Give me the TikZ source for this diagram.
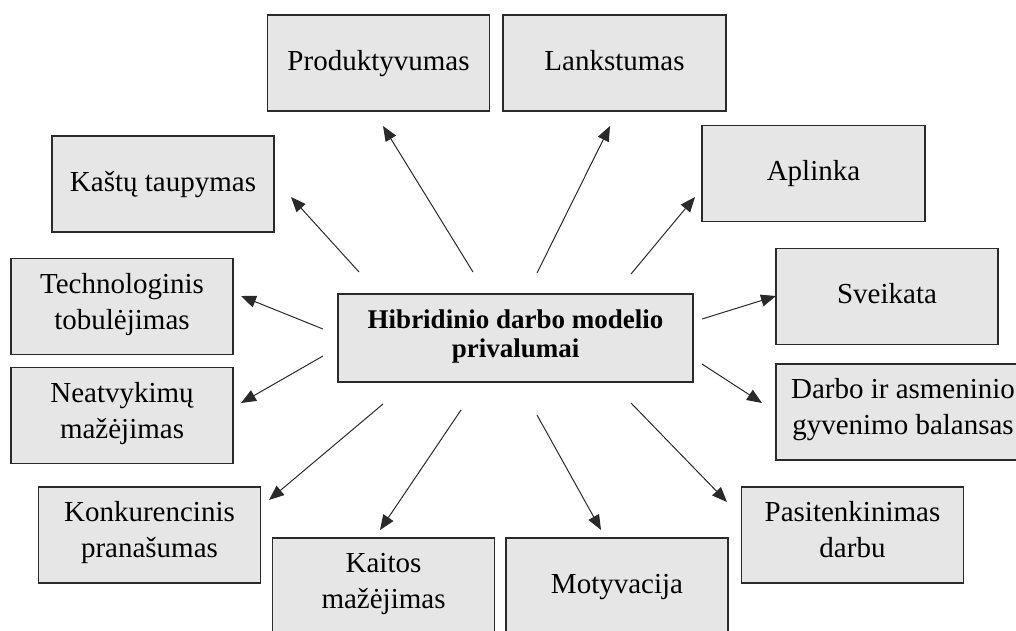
\documentclass[tikz,border=0pt]{standalone}
\usepackage{fontspec}
\setmainfont{Liberation Serif}
\usetikzlibrary{arrows.meta}
\definecolor{boxfill}{HTML}{E6E6E6}
\definecolor{edge}{HTML}{2A2A2A}
\begin{document}
\begin{tikzpicture}[x=1pt,y=-1pt,
  box/.style={draw=edge, line width=1.2pt, fill=boxfill, minimum width=222pt,
    minimum height=96pt, inner sep=0pt, align=center,
    font=\fontsize{29}{36}\selectfont,
    execute at begin node=\strut, execute at end node=\strut},
  hub/.style={box, minimum width=355pt, minimum height=88pt,
    font=\fontsize{27}{29}\selectfont\bfseries},
  arr/.style={draw=edge, line width=1pt, -{Triangle[length=15pt,width=12pt]}}]
\useasboundingbox (0,0) rectangle (1016,630);

% central node
\node[hub] (hub) at (515.5,338) {Hibridinio darbo modelio\\privalumai};

% surrounding benefits
\node[box] (prod) at (378.5,63) {Produktyvumas};
\node[box, minimum width=223pt] (lank) at (614.5,63) {Lankstumas};
\node[box] (kast) at (163,184) {Kaštų taupymas};
\node[box, minimum width=223pt] (apl) at (813.5,173.5) {Aplinka};
\node[box] (tech) at (122,306.5) {Technologinis\\tobulėjimas};
\node[box] (sve) at (887,296.5) {Sveikata};
\node[box] (neat) at (122,415.5) {Neatvykimų\\mažėjimas};
\node[box, minimum width=254pt] (darb) at (903,412) {Darbo ir asmeninio\\gyvenimo balansas};
\node[box] (konk) at (149.5,535) {Konkurencinis\\pranašumas};
\node[box] (pas) at (852.5,535) {Pasitenkinimas\\darbu};
\node[box] (kait) at (383.5,586) {Kaitos\\mažėjimas};
\node[box] (moty) at (617,586) {Motyvacija};

% arrow end points (arrows stop short of the boxes)
\coordinate (prodS) at (473,272);  \coordinate (prodE) at (383,126);
\coordinate (kastS) at (359,272);  \coordinate (kastE) at (291,197);
\coordinate (techS) at (323,329);  \coordinate (techE) at (241,296);
\coordinate (neatS) at (323,356);  \coordinate (neatE) at (241,403);
\coordinate (konkS) at (383,404);  \coordinate (konkE) at (269,500);
\coordinate (kaitS) at (461,410);  \coordinate (kaitE) at (380,530);
\coordinate (motyS) at (537,415);  \coordinate (motyE) at (601,530);
\coordinate (pasS)  at (631,403);  \coordinate (pasE)  at (727,502);
\coordinate (darbS) at (702,364);  \coordinate (darbE) at (762,403);
\coordinate (sveS)  at (702,319);  \coordinate (sveE)  at (776,296);
\coordinate (aplS)  at (631,274);  \coordinate (aplE)  at (695,197);
\coordinate (lankS) at (537,273);  \coordinate (lankE) at (610,126);

\foreach \n in {prod,kast,tech,neat,konk,kait,moty,pas,darb,sve,apl,lank}
  \draw[arr] (\n S) -- (\n E);
\end{tikzpicture}
\end{document}
